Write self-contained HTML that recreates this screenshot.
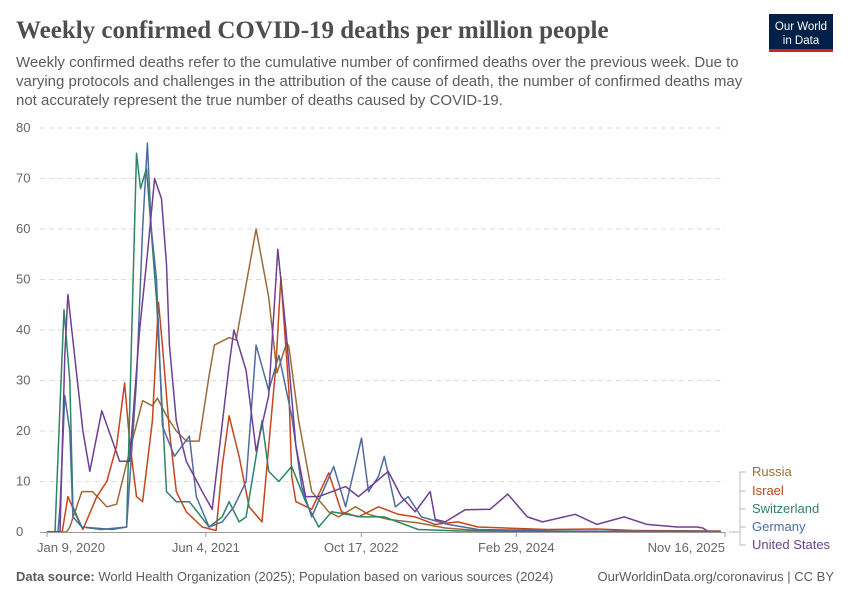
<!DOCTYPE html>
<html><head><meta charset="utf-8">
<style>
body{margin:0;background:#fff;width:850px;height:600px;overflow:hidden;font-family:"Liberation Sans",sans-serif}
</style></head><body>
<svg id="chart" width="850" height="600" xmlns="http://www.w3.org/2000/svg">
<text x="16" y="38" font-family="Liberation Serif,serif" font-weight="bold" font-size="25" fill="#4e4e4e">Weekly confirmed COVID-19 deaths per million people</text>
<g font-size="15" fill="#5b5b5b">
<text x="16" y="67">Weekly confirmed deaths refer to the cumulative number of confirmed deaths over the previous week. Due to</text>
<text x="16" y="86">varying protocols and challenges in the attribution of the cause of death, the number of confirmed deaths may</text>
<text x="16" y="105">not accurately represent the true number of deaths caused by COVID-19.</text>
</g>
<g>
<rect x="769" y="14" width="64" height="38" fill="#002147"/>
<rect x="769" y="49" width="64" height="3" fill="#ce261e"/>
<text x="801" y="30" text-anchor="middle" font-size="11.5" fill="#fff">Our World</text>
<text x="801" y="44" text-anchor="middle" font-size="11.5" fill="#fff">in Data</text>
</g>
<g id="grid"></g><g id="series"></g><g id="xaxis"></g><g id="legend"></g>
<text x="16" y="581" font-size="13" fill="#5b5b5b"><tspan font-weight="bold">Data source:</tspan> World Health Organization (2025); Population based on various sources (2024)</text>
<text x="834" y="581" text-anchor="end" font-size="13" fill="#5b5b5b">OurWorldinData.org/coronavirus | CC BY</text>
</svg>
<script>
const yTicks=[0,10,20,30,40,50,60,70,80];
const xTickLabels=["Jan 9, 2020","Jun 4, 2021","Oct 17, 2022","Feb 29, 2024","Nov 16, 2025"];
const xTickWeeks=[0,73.1,144.6,215.9,306];
const seriesNames=["Russia","Israel","Switzerland","Germany","United States"];
const seriesColors=["#9c6b38","#c4471b","#2c8566","#4f6c9e","#6e3f92"];
const russiaWeeks=[0,9,10.5,16,21,27.5,32,38,44,48.5,50.8,55,59.5,64.1,70,74.6,77,83.8,87,96.2,102,105.8,110.3,111.3,115.8,121.8,129.6,134.2,141.9,147.9,157,170.8,183.2,195,221,240,270,310];
const russiaVals=[0,0,1,8,8,5,5.5,16,26,25,26.5,23,20,18,18,31,37,38.5,38,60,46.5,31.5,37.5,36.7,22,8,4,3,5,3.5,2.5,1.8,0.8,0.4,0.4,0.1,0.05,0.05];
const israelWeeks=[0,7,9.6,13.7,16.5,22.9,27.5,32,35.7,38,41.2,44,48.5,51.3,53.1,56.3,59.5,64.1,71.4,77.8,80.6,83.8,88.4,93,98.9,105.3,107.6,111.3,112.6,114.5,121.8,129.6,135.5,143.3,152.5,161.6,169.4,178.6,189.1,198.3,230,253,270,310];
const israelVals=[0,0,7,3,0.5,7,10,17,29.5,18,7,6,22,45.5,37,20,8,4,1,0.3,13,23,15,5,2,33,50.5,28,11,6,4.5,11.7,4,3,5,3.5,3,1.5,2,1,0.5,0.6,0.3,0.2];
const swissWeeks=[0,3.7,6,7.8,10.5,11.9,16,25,36.6,39,41.2,43,45.8,50.4,55,59.5,65.5,74.6,80.6,83.8,88.4,91.6,96.2,98.9,102,106.7,112.6,119,125,131,144.7,155.2,170.8,190,230,310];
const swissVals=[0,0,25,44,30,5,1,0.5,1,40,75,68,72,46,8,6,6,1,3,6,2,3,15,22,12,10,13,6,1,4,3,3,0.5,0.2,0.1,0.05];
const germanyWeeks=[0,5,6,8.2,10.5,11.9,16,30,36.6,41.2,44,46.2,48,50.4,53.1,58.6,65.5,68.7,74.6,80.6,86,91.6,96.2,102,106.7,112.6,117.2,121.8,131.9,137.4,144.7,147.9,152.5,155.2,160.3,166.2,172.2,184.5,198.3,230,310];
const germanyVals=[0,0,5,27,20,3,1,0.5,1,30,60,77,60,50,21,15,19,7,1,2,5,10,37,28,35,23,9,3,13,5,18.6,8,11,15,5,7,3,1.5,0.5,0.2,0.1];
const usWeeks=[0,6,8.2,9.6,11.9,16.5,19.7,25.2,33.4,38,42.6,46.2,49.5,52.7,55,56.3,59.5,64.1,71.4,76,83.8,86,91.6,96.2,102,106.2,109.9,114.5,119,125,137.4,143.3,157,163,169.4,176.3,178.6,183.2,192.3,203.8,212,221,228,243,253,265.6,276,290,299,301.7,303.6];
const usVals=[0,0,35,47,38,20,12,24,14,14,40,55,70,66,53,37,22,14,8,4.5,33,40,32,16,27,56,40,17,7,7,9,7,12,7,4,8,2.5,2,4.4,4.5,7.5,3,2,3.5,1.5,3,1.5,1,1,0.8,0.3];
const weeks=[russiaWeeks,israelWeeks,swissWeeks,germanyWeeks,usWeeks];
const vals=[russiaVals,israelVals,swissVals,germanyVals,usVals];
const legendY=[476,495,513,531,549];

const NS="http://www.w3.org/2000/svg";
const X0=47,PXW=2.1735,Y0=532,PYV=5.05;
function xs(w){return X0+w*PXW;}
function ys(v){return Y0-v*PYV;}
function mk(t,a,p){const e=document.createElementNS(NS,t);for(const k in a)e.setAttribute(k,a[k]);p.appendChild(e);return e;}
const grid=document.getElementById('grid');
yTicks.forEach(v=>{
  if(v>0){const l=mk('line',{x1:40,x2:725,y1:ys(v),y2:ys(v),stroke:'#dddddd','stroke-dasharray':'5,4'},grid);
  
  }
  const t=mk('text',{x:16,y:ys(v)+4,'font-size':13,fill:'#666'},grid);
  
  
  t.textContent=v;
});
const xa=document.getElementById('xaxis');
const al=mk('line',{x1:40,x2:725,y1:532.5,y2:532.5,stroke:'#999'},xa);


xTickLabels.forEach((s,i)=>{
  let x=xs(xTickWeeks[i]);let anchor='middle';let tx=x;
  if(i===0){anchor='start';tx=37;}
  if(i===xTickLabels.length-1){anchor='end';tx=725;x=725;}
  const tk=mk('line',{x1:x,x2:x,y1:532,y2:537,stroke:'#999'},xa);
  
  
  const t=mk('text',{x:tx,y:552,'font-size':13,fill:'#666','text-anchor':anchor},xa);
  
  
  t.textContent=s;
});
const sg=document.getElementById('series');
const lg=document.getElementById('legend');
seriesNames.forEach((n,i)=>{
  const pts=weeks[i].map((w,j)=>xs(w).toFixed(1)+','+ys(vals[i][j]).toFixed(1)).join(' ');
  const p=mk('polyline',{points:pts,fill:'none',stroke:seriesColors[i],'stroke-width':1.5,'stroke-linejoin':'round'},sg);
  
  
  const c=mk('polyline',{points:`729,532 740,532 740,${legendY[i]-4} 746,${legendY[i]-4}`,fill:'none',stroke:'#bbb','stroke-width':1},lg);
  
  
  const t=mk('text',{x:752,y:legendY[i],'font-size':13,fill:seriesColors[i]},lg);
  
  
  t.textContent=n;
});
</script>
</body></html>
